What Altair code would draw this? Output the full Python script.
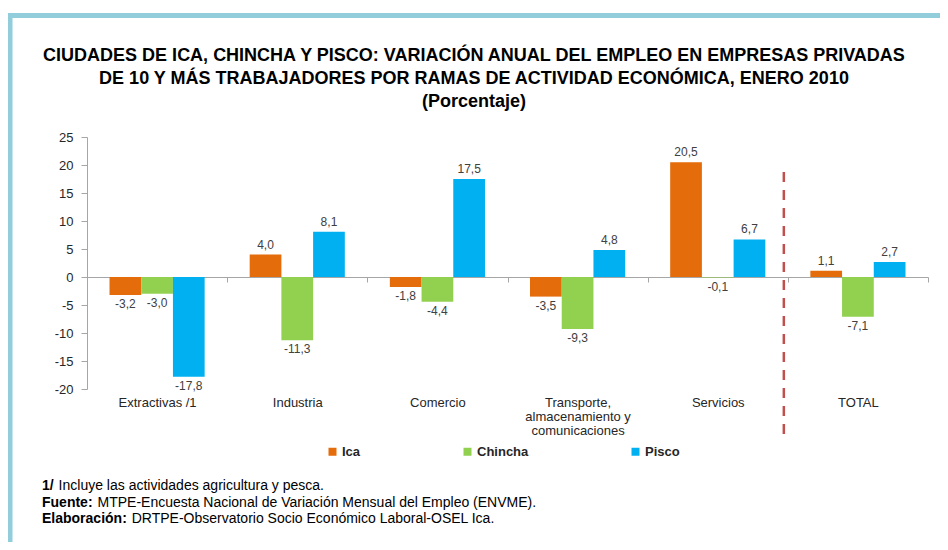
import altair as alt
import pandas as pd

# ---------------- data ----------------
categories = ["Extractivas /1", "Industria", "Comercio",
              "Transporte, almacenamiento y comunicaciones", "Servicios", "TOTAL"]
series = ["Ica", "Chincha", "Pisco"]
ica = [-3.2, 4.0, -1.8, -3.5, 20.5, 1.1]
chincha = [-3.0, -11.3, -4.4, -9.3, -0.1, -7.1]
pisco = [-17.8, 8.1, 17.5, 4.8, 6.7, 2.7]
colors = ["#E46C0A", "#92D050", "#00B0F0"]
y_ticks = [-20, -15, -10, -5, 0, 5, 10, 15, 20, 25]

title_lines = [
    "CIUDADES DE ICA, CHINCHA Y PISCO: VARIACIÓN ANUAL DEL EMPLEO EN EMPRESAS PRIVADAS",
    "DE 10 Y MÁS TRABAJADORES POR RAMAS DE ACTIVIDAD ECONÓMICA, ENERO 2010",
    "(Porcentaje)",
]
note_bold = ["1/", "Fuente:", "Elaboración:"]
note_text = [
    "Incluye las actividades agricultura y pesca.",
    "MTPE-Encuesta Nacional de Variación Mensual del Empleo (ENVME).",
    "DRTPE-Observatorio Socio Económico Laboral-OSEL Ica.",
]

rows = []
for s, vals in zip(series, [ica, chincha, pisco]):
    for c, v in zip(categories, vals):
        rows.append({"cat": c, "serie": s, "valor": v,
                     "etiqueta": f"{v:.1f}".replace(".", ",")})
df = pd.DataFrame(rows)

FONT = "Liberation Sans, Arial, sans-serif"
W, H = 841, 252
AX = "#A6A6A6"
TXT = "#262626"

x_scale = alt.Scale(domain=categories, paddingInner=0, paddingOuter=0)
y_scale = alt.Scale(domain=[-20, 25], nice=False, zero=False)
off_scale = alt.Scale(domain=series, paddingInner=0, paddingOuter=0.71)

label_expr = ("datum.label == 'Transporte, almacenamiento y comunicaciones' ? "
              "['Transporte,', 'almacenamiento y', 'comunicaciones'] : datum.label")

x_axis = alt.Axis(orient="bottom", offset=-112, tickBand="extent",
                  tickSize=5, tickColor=AX, domainColor=AX,
                  labelAngle=0, labelPadding=114, labelFont=FONT,
                  labelFontSize=13, labelColor=TXT, labelExpr=label_expr,
                  labelLineHeight=14, labelBaseline="top", labelLimit=300,
                  labelOverlap=False)
y_axis = alt.Axis(values=y_ticks, tickSize=6, tickColor=AX, domainColor=AX,
                  grid=False, labelExpr="toString(datum.value)",
                  labelOverlap=False, labelFlush=False, labelBound=False,
                  labelPadding=8, labelFont=FONT, labelFontSize=13,
                  labelColor=TXT)

x_enc = alt.X("cat:N", scale=x_scale, sort=categories, title=None, axis=x_axis)
y_enc = alt.Y("valor:Q", scale=y_scale, title=None, axis=y_axis)
off_enc = alt.XOffset("serie:N", scale=off_scale, sort=series)

base = alt.Chart(df)

bars = base.mark_bar().encode(
    x=x_enc, y=y_enc, xOffset=off_enc,
    color=alt.Color("serie:N", scale=alt.Scale(domain=series, range=colors),
                    sort=series,
                    legend=alt.Legend(orient="none", legendX=239, legendY=308,
                                      direction="horizontal", title=None,
                                      symbolType="square", symbolSize=64,
                                      symbolStrokeWidth=0, labelFont=FONT,
                                      labelFontSize=13, labelFontWeight="bold",
                                      labelColor=TXT, columnPadding=100,
                                      labelOffset=3, padding=0)),
)

pos_labels = base.transform_filter("datum.valor >= 0").mark_text(
    baseline="bottom", dy=-3, fontSize=12, font=FONT, color="#404040"
).encode(x=x_enc, y=y_enc, xOffset=off_enc, text="etiqueta:N")

neg_labels = base.transform_filter("datum.valor < 0").mark_text(
    baseline="top", dy=4, fontSize=12, font=FONT, color="#404040"
).encode(x=x_enc, y=y_enc, xOffset=off_enc, text="etiqueta:N")

sep = alt.Chart(pd.DataFrame({"cat": ["TOTAL"]})).mark_rule(
    color="#C0504D", strokeWidth=2.5, strokeDash=[10, 8], xOffset=-4
).encode(x=alt.X("cat:N", scale=x_scale, sort=categories, bandPosition=0,
                 title=None, axis=x_axis),
         y=alt.YDatum(18.75, scale=y_scale, title=None, axis=y_axis),
         y2=alt.datum(-29.3))

dummy = pd.DataFrame({"a": [0]})

frame = alt.Chart(dummy).mark_rect(fillOpacity=0, stroke="#92CDDC", strokeWidth=5).encode(
    x=alt.value(-77), x2=alt.value(1200), y=alt.value(-121.5), y2=alt.value(1200))

title = alt.Chart(dummy).mark_text(
    text=title_lines, font=FONT, fontSize=18, fontWeight="bold", color="#000000",
    align="center", baseline="alphabetic", lineHeight=23
).encode(x=alt.value(387), y=alt.value(-76))

note_y = [353, 369.5, 386]
note_x2 = [-28.4, 10.5, 44.7]
notes = []
for b, t, yy, xx in zip(note_bold, note_text, note_y, note_x2):
    notes.append(alt.Chart(dummy).mark_text(
        text=b, font=FONT, fontSize=14, fontWeight="bold", color="#000000",
        align="left", baseline="alphabetic").encode(x=alt.value(-45), y=alt.value(yy)))
    notes.append(alt.Chart(dummy).mark_text(
        text=t, font=FONT, fontSize=14, color="#000000",
        align="left", baseline="alphabetic").encode(x=alt.value(xx), y=alt.value(yy)))

chart = alt.layer(frame, bars, sep, pos_labels, neg_labels, title, *notes).properties(
    width=W, height=H, autosize="none",
    padding={"left": 79, "top": 129, "right": 12, "bottom": 153},
).configure(background="#FFFFFF").configure_view(strokeWidth=0)

chart.save("out.html", embed_options={"renderer": "svg", "actions": False})
